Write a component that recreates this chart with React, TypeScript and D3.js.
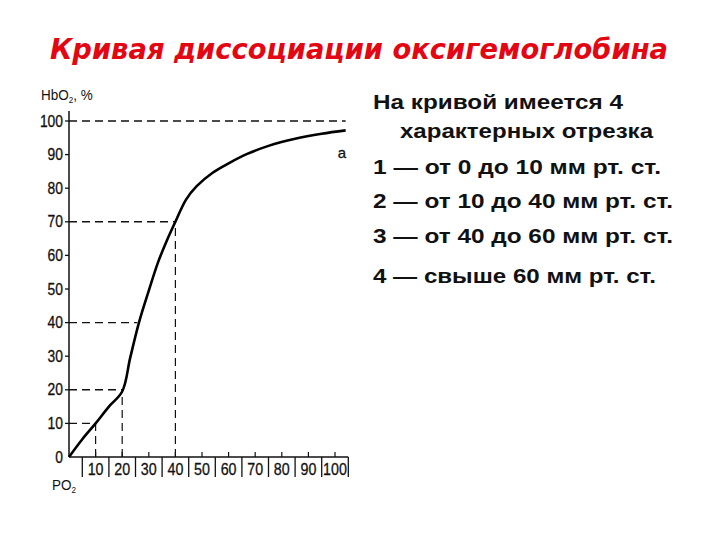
import React from "react";
import * as d3 from "d3";

const title = "Кривая диссоциации оксигемоглобина";
const po2 = [0, 5, 10, 15, 20, 23, 26.3, 30, 33.5, 37, 40, 44, 48, 54, 60, 67, 75, 85, 95, 104];
const hbo2 = [0, 5.3, 10, 15, 19.5, 29.5, 40, 49.5, 58, 64.8, 70, 76.6, 80.6, 84.6, 87.4, 90.2, 92.6, 94.7, 96.2, 97.2];
const yTicks = [0, 10, 20, 30, 40, 50, 60, 70, 80, 90, 100];
const xTicks = [10, 20, 30, 40, 50, 60, 70, 80, 90, 100];
const xSeparators = [5, 15, 25, 35, 45, 55, 65, 75, 85, 95, 105];
// dashed guide lines: points where horizontal / vertical guides end
const hGuides = [
  { x: 104, y: 100 },
  { x: 40, y: 70 },
  { x: 25.7, y: 40 },
  { x: 20, y: 20 },
  { x: 10, y: 10 },
];
const vGuides = [
  { x: 10, y: 10 },
  { x: 20, y: 20 },
  { x: 40, y: 70 },
];
const notes = [
  "На кривой имеется 4",
  "характерных отрезка",
  "1 — от 0 до 10 мм рт. ст.",
  "2 — от 10 до 40 мм рт. ст.",
  "3 — от 40 до 60 мм рт. ст.",
  "4 — свыше 60 мм рт. ст.",
];

export default function App() {
  const x = d3.scaleLinear().domain([0, 100]).range([69, 335]);
  const y = d3.scaleLinear().domain([0, 100]).range([457, 121]);
  const pts: [number, number][] = po2.map((p, i) => [p, hbo2[i]]);
  const line = d3
    .line<[number, number]>()
    .x((d) => x(d[0]))
    .y((d) => y(d[1]))
    .curve(d3.curveCatmullRom.alpha(0.5));

  const noteX = [373, 400, 373, 373, 373, 373];
  const noteY = [109, 138, 174, 208, 243, 283];
  const noteW = [250, 253, 288, 300, 300, 283];
  const narrow = "'Liberation Sans', Arial, sans-serif";

  return (
    <svg
      width={720}
      height={540}
      style={{ position: "absolute", left: 0, top: 0, background: "#fff" }}
    >
      <rect x={0} y={0} width={720} height={540} fill="#fff" />
      <text
        x={359}
        y={59}
        textAnchor="middle"
        fontFamily="'DejaVu Sans', sans-serif"
        fontWeight="bold"
        fontStyle="italic"
        fontSize={28}
        fill="#e30613"
        textLength={618}
        lengthAdjust="spacingAndGlyphs"
      >
        {title}
      </text>

      {/* dashed guides */}
      {hGuides.map((g, i) => (
        <line
          key={"h" + i}
          x1={x(0)}
          x2={x(g.x)}
          y1={y(g.y)}
          y2={y(g.y)}
          stroke="#111"
          strokeWidth={1.4}
          strokeDasharray="8,5"
        />
      ))}
      {vGuides.map((g, i) => (
        <line
          key={"v" + i}
          x1={x(g.x)}
          x2={x(g.x)}
          y1={y(0)}
          y2={y(g.y)}
          stroke="#111"
          strokeWidth={1.2}
          strokeDasharray="8,5"
        />
      ))}

      {/* y axis */}
      <line x1={x(0)} x2={x(0)} y1={y(0)} y2={111} stroke="#111" strokeWidth={1.5} />
      {yTicks.map((t) => (
        <g key={"yt" + t}>
          {t > 0 && (
            <line x1={x(0) - 4} x2={x(0)} y1={y(t)} y2={y(t)} stroke="#111" strokeWidth={1.3} />
          )}
          <text
            transform={`translate(${63},${y(t) + 5.5}) scale(0.84,1)`}
            textAnchor="end"
            fontFamily={narrow}
            fontSize={16.5}
            fill="#111"
            stroke="#111"
            strokeWidth={0.3}
          >
            {t}
          </text>
        </g>
      ))}
      <text
        transform="translate(41,100) scale(0.9,1)"
        fontFamily={narrow}
        fontSize={15}
        fill="#111"
      >
        HbO
        <tspan fontSize={9} dy={3}>2</tspan>
        <tspan dy={-3}>, %</tspan>
      </text>

      {/* x axis */}
      <line x1={x(0)} x2={x(105)} y1={y(0)} y2={y(0)} stroke="#111" strokeWidth={1.5} />
      {xTicks.map((t) => (
        <g key={"xt" + t}>
          <line x1={x(t)} x2={x(t)} y1={y(0)} y2={y(0) - 5} stroke="#111" strokeWidth={1.2} />
          <text
            transform={`translate(${x(t)},${475}) scale(0.84,1)`}
            textAnchor="middle"
            fontFamily={narrow}
            fontSize={17}
            fill="#111"
            stroke="#111"
            strokeWidth={0.3}
          >
            {t}
          </text>
        </g>
      ))}
      {xSeparators.map((s) => (
        <line key={"s" + s} x1={x(s)} x2={x(s)} y1={y(0)} y2={y(0) + 20} stroke="#111" strokeWidth={1.3} />
      ))}
      <text
        transform="translate(52,490) scale(0.9,1)"
        fontFamily={narrow}
        fontSize={15}
        fill="#111"
      >
        PO
        <tspan fontSize={9} dy={3}>2</tspan>
      </text>

      {/* curve */}
      <path d={line(pts) || ""} fill="none" stroke="#000" strokeWidth={2.6} />
      <text x={342} y={158} textAnchor="middle" fontFamily={narrow} fontSize={15} fill="#111" stroke="#111" strokeWidth={0.3}>
        a
      </text>

      {/* notes */}
      {notes.map((n, i) => (
        <text
          key={"n" + i}
          x={noteX[i]}
          y={noteY[i]}
          fontFamily="'Liberation Sans', Arial, sans-serif"
          fontWeight="bold"
          fontSize={20}
          fill="#111"
          textLength={noteW[i]}
          lengthAdjust="spacingAndGlyphs"
        >
          {n}
        </text>
      ))}
    </svg>
  );
}
